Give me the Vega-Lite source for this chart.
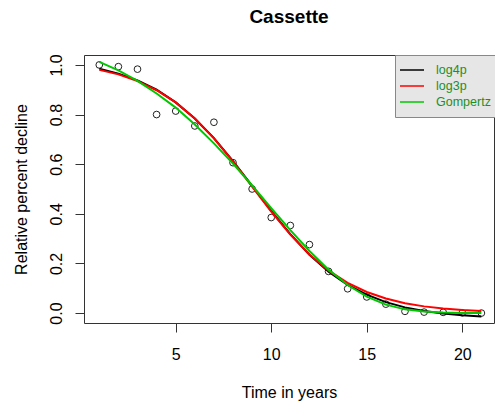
{
  "$schema": "https://vega.github.io/schema/vega-lite/v6.json",
  "width": 410,
  "height": 268,
  "autosize": {"type": "none"},
  "padding": {"left": 84, "top": 55, "right": 1, "bottom": 87},
  "title": {"text": "Cassette", "fontSize": 19, "fontWeight": "bold", "font": "Liberation Sans", "anchor": "middle", "baseline": "alphabetic", "offset": 12, "color": "#000000"},
  "config": {
    "font": "Liberation Sans",
    "view": {"stroke": "#333333", "strokeWidth": 1},
    "axis": {"grid": false, "domain": false, "tickColor": "#333333", "tickSize": 9, "labelFontSize": 16, "labelColor": "#000000", "titleFontSize": 16, "titleFontWeight": "normal", "titleColor": "#000000", "labelFont": "Liberation Sans", "titleFont": "Liberation Sans"}
  },
  "datasets": {
    "obs": [
      {"year": 1, "decline": 1.0}, {"year": 2, "decline": 0.993}, {"year": 3, "decline": 0.983},
      {"year": 4, "decline": 0.80}, {"year": 5, "decline": 0.814}, {"year": 6, "decline": 0.754},
      {"year": 7, "decline": 0.769}, {"year": 8, "decline": 0.606}, {"year": 9, "decline": 0.50},
      {"year": 10, "decline": 0.385}, {"year": 11, "decline": 0.353}, {"year": 12, "decline": 0.276},
      {"year": 13, "decline": 0.168}, {"year": 14, "decline": 0.098}, {"year": 15, "decline": 0.065},
      {"year": 16, "decline": 0.036}, {"year": 17, "decline": 0.007}, {"year": 18, "decline": 0.004},
      {"year": 19, "decline": 0.003}, {"year": 20, "decline": 0.001}, {"year": 21, "decline": 0.0}
    ],
    "fit": [
      {"year": 1, "model": "log4p", "value": 0.985}, {"year": 2, "model": "log4p", "value": 0.965}, {"year": 3, "model": "log4p", "value": 0.938},
      {"year": 4, "model": "log4p", "value": 0.900}, {"year": 5, "model": "log4p", "value": 0.849}, {"year": 6, "model": "log4p", "value": 0.784},
      {"year": 7, "model": "log4p", "value": 0.705}, {"year": 8, "model": "log4p", "value": 0.612}, {"year": 9, "model": "log4p", "value": 0.513},
      {"year": 10, "model": "log4p", "value": 0.412}, {"year": 11, "model": "log4p", "value": 0.318}, {"year": 12, "model": "log4p", "value": 0.235},
      {"year": 13, "model": "log4p", "value": 0.167}, {"year": 14, "model": "log4p", "value": 0.114}, {"year": 15, "model": "log4p", "value": 0.074},
      {"year": 16, "model": "log4p", "value": 0.044}, {"year": 17, "model": "log4p", "value": 0.023}, {"year": 18, "model": "log4p", "value": 0.008},
      {"year": 19, "model": "log4p", "value": -0.002}, {"year": 20, "model": "log4p", "value": -0.009}, {"year": 21, "model": "log4p", "value": -0.014},
      {"year": 1, "model": "log3p", "value": 0.980}, {"year": 2, "model": "log3p", "value": 0.962}, {"year": 3, "model": "log3p", "value": 0.935},
      {"year": 4, "model": "log3p", "value": 0.898}, {"year": 5, "model": "log3p", "value": 0.849}, {"year": 6, "model": "log3p", "value": 0.784},
      {"year": 7, "model": "log3p", "value": 0.704}, {"year": 8, "model": "log3p", "value": 0.611}, {"year": 9, "model": "log3p", "value": 0.510},
      {"year": 10, "model": "log3p", "value": 0.409}, {"year": 11, "model": "log3p", "value": 0.316}, {"year": 12, "model": "log3p", "value": 0.236},
      {"year": 13, "model": "log3p", "value": 0.171}, {"year": 14, "model": "log3p", "value": 0.122}, {"year": 15, "model": "log3p", "value": 0.085},
      {"year": 16, "model": "log3p", "value": 0.059}, {"year": 17, "model": "log3p", "value": 0.040}, {"year": 18, "model": "log3p", "value": 0.027},
      {"year": 19, "model": "log3p", "value": 0.018}, {"year": 20, "model": "log3p", "value": 0.012}, {"year": 21, "model": "log3p", "value": 0.008},
      {"year": 1, "model": "Gompertz", "value": 1.012}, {"year": 2, "model": "Gompertz", "value": 0.978}, {"year": 3, "model": "Gompertz", "value": 0.936},
      {"year": 4, "model": "Gompertz", "value": 0.885}, {"year": 5, "model": "Gompertz", "value": 0.828}, {"year": 6, "model": "Gompertz", "value": 0.760},
      {"year": 7, "model": "Gompertz", "value": 0.684}, {"year": 8, "model": "Gompertz", "value": 0.602}, {"year": 9, "model": "Gompertz", "value": 0.514},
      {"year": 10, "model": "Gompertz", "value": 0.423}, {"year": 11, "model": "Gompertz", "value": 0.334}, {"year": 12, "model": "Gompertz", "value": 0.250},
      {"year": 13, "model": "Gompertz", "value": 0.175}, {"year": 14, "model": "Gompertz", "value": 0.113}, {"year": 15, "model": "Gompertz", "value": 0.066},
      {"year": 16, "model": "Gompertz", "value": 0.034}, {"year": 17, "model": "Gompertz", "value": 0.015}, {"year": 18, "model": "Gompertz", "value": 0.006},
      {"year": 19, "model": "Gompertz", "value": 0.002}, {"year": 20, "model": "Gompertz", "value": 0.0004}, {"year": 21, "model": "Gompertz", "value": 0.0001}
    ]
  },
  "layer": [
    {
      "data": {"name": "obs"},
      "mark": {"type": "point", "shape": "circle", "filled": false, "size": 45, "color": "#222222", "strokeWidth": 1, "opacity": 1},
      "encoding": {
        "x": {"field": "year", "type": "quantitative", "scale": {"domain": [0.2, 21.66], "nice": false, "zero": false},
          "axis": {"values": [5, 10, 15, 20], "labelBaseline": "alphabetic", "labelPadding": 27, "labelFlush": false, "title": "Time in years", "titleBaseline": "alphabetic", "titleY": 74, "titleX": 205}},
        "y": {"field": "decline", "type": "quantitative", "scale": {"domain": [-0.04, 1.04], "nice": false, "zero": false},
          "axis": {"values": [0, 0.2, 0.4, 0.6, 0.8, 1.0], "format": ".1f", "labelAngle": -90, "labelAlign": "center", "labelBaseline": "alphabetic", "labelPadding": 13.5, "labelFlush": false, "title": "Relative percent decline", "titleAngle": 270, "titleAlign": "center", "titleBaseline": "alphabetic", "titleX": -58, "titleY": 134}}
      }
    },
    {
      "data": {"name": "fit"},
      "transform": [{"filter": "datum.model === 'log4p'"}],
      "mark": {"type": "line", "strokeWidth": 2},
      "encoding": {
        "x": {"field": "year", "type": "quantitative"},
        "y": {"field": "value", "type": "quantitative"},
        "color": {"field": "model", "type": "nominal", "scale": {"domain": ["log4p", "log3p", "Gompertz"], "range": ["#000000", "#FF0000", "#00C800"]},
          "legend": {"orient": "none", "legendX": 311, "legendY": 0, "title": null, "fillColor": "#E6E6E6", "strokeColor": "#888888", "padding": 8, "symbolType": "M-2,0H2", "symbolSize": 144, "symbolOffset": 2, "symbolStrokeWidth": 1.5, "labelFontSize": 12.5, "labelColor": "#1F8F1F", "labelOffset": 17, "rowPadding": 2, "labelFont": "Liberation Sans"}}
      }
    },
    {
      "data": {"name": "fit"},
      "transform": [{"filter": "datum.model === 'log3p'"}],
      "mark": {"type": "line", "strokeWidth": 2},
      "encoding": {
        "x": {"field": "year", "type": "quantitative"},
        "y": {"field": "value", "type": "quantitative"},
        "color": {"field": "model", "type": "nominal"}
      }
    },
    {
      "data": {"name": "fit"},
      "transform": [{"filter": "datum.model === 'Gompertz'"}],
      "mark": {"type": "line", "strokeWidth": 2},
      "encoding": {
        "x": {"field": "year", "type": "quantitative"},
        "y": {"field": "value", "type": "quantitative"},
        "color": {"field": "model", "type": "nominal"}
      }
    }
  ]
}
